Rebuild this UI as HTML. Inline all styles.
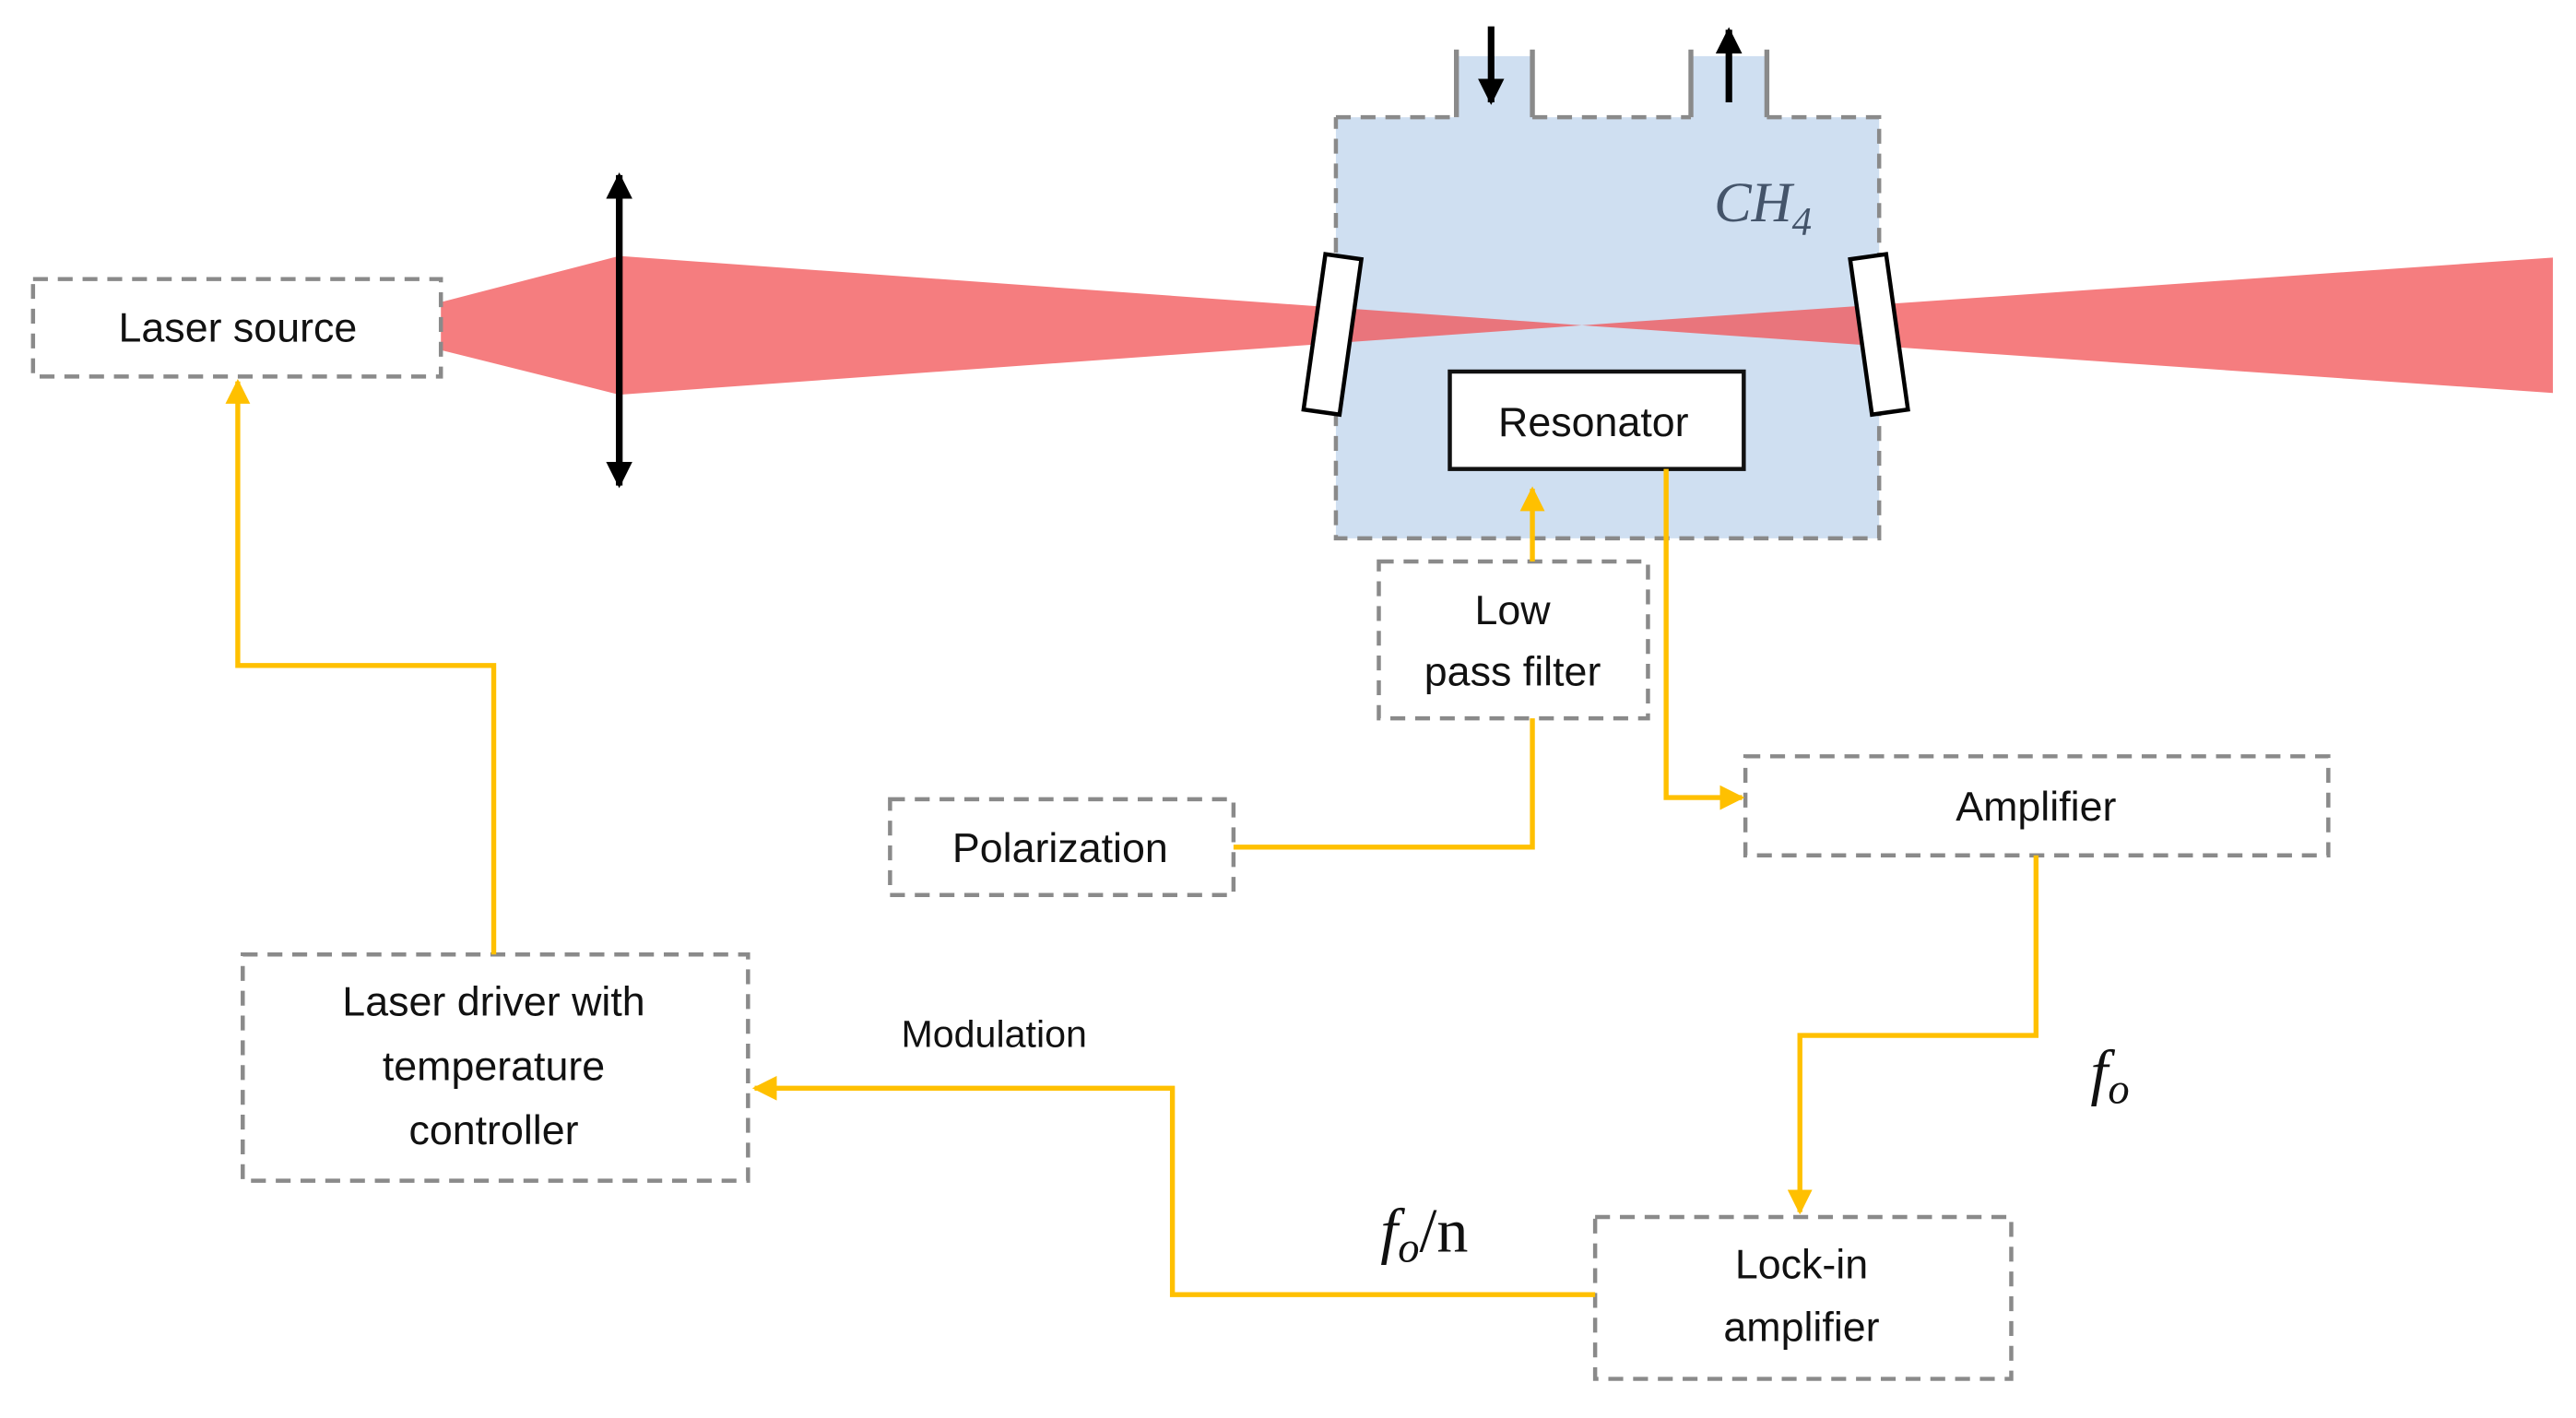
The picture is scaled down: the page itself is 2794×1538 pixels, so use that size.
<!DOCTYPE html>
<html><head><meta charset="utf-8"><style>
html,body{margin:0;padding:0;background:#fff;}
svg{display:block;}
text{font-family:"Liberation Sans",sans-serif;fill:#111;}
.d{fill:none;stroke:#8a8a8a;stroke-width:2.5;stroke-dasharray:9 6;}
.y{fill:none;stroke:#ffc000;stroke-width:3;}
.m{font-family:"Liberation Serif",serif;font-style:italic;}
</style></head><body>
<svg width="2794" height="1538" viewBox="0 0 1560 858.7" preserveAspectRatio="none" xmlns="http://www.w3.org/2000/svg">
<defs>
<marker id="ya" viewBox="0 0 10 10" refX="9" refY="5" markerWidth="5" markerHeight="5" orient="auto"><path d="M0,0 L10,5 L0,10 z" fill="#ffc000"/></marker>
<marker id="ka" viewBox="0 0 10 10" refX="9" refY="5" markerWidth="4" markerHeight="4" orient="auto"><path d="M0,0 L10,5 L0,10 z" fill="#000"/></marker>
</defs>
<rect x="883" y="34" width="45" height="40" fill="#cfdff1"/>
<rect x="1025" y="34" width="45" height="40" fill="#cfdff1"/>
<rect x="809" y="71" width="329" height="255" fill="#cfdff1"/>
<path d="M809,71 H882 M928,71 H1024 M1070,71 H1138 V326 H809 V71" class="d"/>
<path d="M882,30 V71 M928,30 V71 M1024,30 V71 M1070,30 V71" stroke="#8a8a8a" stroke-width="3" fill="none"/>
<line x1="903" y1="16" x2="903" y2="62" stroke="#000" stroke-width="4" marker-end="url(#ka)"/>
<line x1="1047" y1="62" x2="1047" y2="18" stroke="#000" stroke-width="4" marker-end="url(#ka)"/>
<text x="1038" y="134" class="m" font-size="34" style="fill:#44546a">CH<tspan font-size="24" dy="8">4</tspan></text>
<polygon points="267,183 375,155 958,197 375,239 267,212" fill="rgba(242,82,84,0.75)"/>
<polygon points="958,197 1546,156 1546,238" fill="rgba(242,82,84,0.75)"/>
<line x1="375" y1="290" x2="375" y2="106" stroke="#000" stroke-width="4" marker-end="url(#ka)"/>
<line x1="375" y1="120" x2="375" y2="294" stroke="#000" stroke-width="4" marker-end="url(#ka)"/>
<rect x="796" y="155" width="22" height="95" fill="#fff" stroke="#000" stroke-width="2.5" transform="rotate(8 807 202)"/>
<rect x="1127" y="155" width="22" height="95" fill="#fff" stroke="#000" stroke-width="2.5" transform="rotate(-8 1138 203)"/>
<rect x="878" y="225" width="178" height="59" fill="#fff" stroke="#111" stroke-width="2.5"/>
<text x="965" y="264" font-size="25" text-anchor="middle">Resonator</text>
<rect x="20" y="169" width="247" height="59" class="d"/>
<text x="144" y="207" font-size="25" text-anchor="middle">Laser source</text>
<rect x="835" y="340" width="163" height="95" class="d"/>
<text x="916" y="378" font-size="25" text-anchor="middle">Low</text>
<text x="916" y="415" font-size="25" text-anchor="middle">pass filter</text>
<rect x="539" y="484" width="208" height="58" class="d"/>
<text x="642" y="522" font-size="25" text-anchor="middle">Polarization</text>
<rect x="1057" y="458" width="353" height="60" class="d"/>
<text x="1233" y="497" font-size="25" text-anchor="middle">Amplifier</text>
<rect x="147" y="578" width="306" height="137" class="d"/>
<text x="299" y="615" font-size="25" text-anchor="middle">Laser driver with</text>
<text x="299" y="654" font-size="25" text-anchor="middle">temperature</text>
<text x="299" y="693" font-size="25" text-anchor="middle">controller</text>
<rect x="966" y="737" width="252" height="98" class="d"/>
<text x="1091" y="774" font-size="25" text-anchor="middle">Lock-in</text>
<text x="1091" y="812" font-size="25" text-anchor="middle">amplifier</text>
<path d="M928,340 V296" class="y" marker-end="url(#ya)"/>
<path d="M1009,284 V483 H1055" class="y" marker-end="url(#ya)"/>
<path d="M747,513 H928 V435" class="y" stroke-width="4"/>
<path d="M1233,518 V627 H1090 V734" class="y" marker-end="url(#ya)"/>
<path d="M966,784 H710 V659 H457" class="y" stroke-width="4" marker-end="url(#ya)"/>
<path d="M299,578 V403 H144 V231" class="y" marker-end="url(#ya)"/>
<text x="602" y="634" font-size="23" text-anchor="middle">Modulation</text>
<text x="1266" y="662" class="m" font-size="38">f<tspan font-size="26" dy="6">o</tspan></text>
<text x="836" y="758" class="m" font-size="38">f<tspan font-size="26" dy="6">o</tspan><tspan dy="-6" font-style="normal">/n</tspan></text>
</svg>
</body></html>
